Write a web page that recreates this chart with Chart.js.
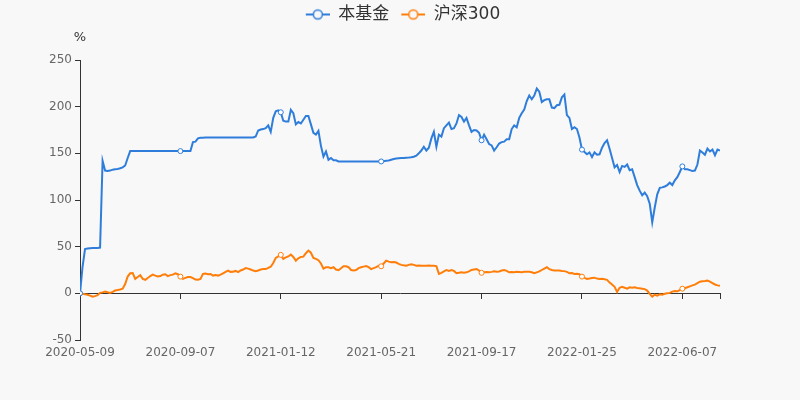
<!DOCTYPE html>
<html>
<head>
<meta charset="utf-8">
<script src="https://cdn.jsdelivr.net/npm/chart.js@4/dist/chart.umd.min.js"></script>
<style>
  html, body { margin: 0; padding: 0; background: #f8f8f8; }
  #wrap { width: 800px; height: 400px; }
</style>
</head>
<body>
<div id="wrap"><canvas id="c" width="800" height="400"></canvas></div>
<script>
// ---- data ----
const seriesNames = ['本基金', '沪深300'];
const tickLabels = ['2020-05-09', '2020-09-07', '2021-01-12', '2021-05-21', '2021-09-17', '2022-01-25', '2022-06-07'];
const pointsPerLabel = 40;
const yUnit = '%';
const yMin = -50, yMax = 250, yStep = 50;

const fundReturn = [
  0, 28, 47.5, 48, 48.3, 48.5, 48.6, 48.7, 49, 142,
  131.5, 131, 131.5, 132.5, 133, 133.3, 134, 135, 137, 145,
  152.4, 152.4, 152.4, 152.4, 152.4, 152.4, 152.4, 152.4, 152.4, 152.4,
  152.4, 152.4, 152.4, 152.4, 152.4, 152.4, 152.4, 152.4, 152.4, 152.4,
  152.4, 152.4, 152.4, 152.4, 152.5, 162, 162.5, 166, 166.7, 166.8,
  167, 167, 167, 167, 167, 167, 167, 167, 167, 167,
  167, 167, 167, 167, 167, 167, 167, 167, 167, 167,
  168, 174.5, 175.5, 176, 177, 180, 173, 188, 195, 196,
  194, 185, 184, 184, 196.5, 193, 181, 183.5, 182, 186,
  190, 190, 181, 172, 170, 174, 158, 146.5, 152, 143,
  145, 142.5, 142.5, 141.3, 141.3, 141.3, 141.3, 141.3, 141.3, 141.3,
  141.3, 141.3, 141.3, 141.3, 141.3, 141.3, 141.3, 141.3, 141.3, 141.3,
  141.3, 141.5, 142, 142.4, 143.2, 144, 144.5, 144.8, 145, 145,
  145.3, 145.5, 145.8, 146.3, 147.5, 150, 153, 157, 153, 156,
  166, 173, 157, 170, 168, 177, 180, 183, 176, 177,
  182, 191, 189, 184, 188, 180, 173, 175, 174.5, 172,
  164, 170, 165, 160, 158.5, 153, 156.5, 160.5, 162, 162.5,
  165, 165, 176, 180, 178, 188, 193, 197, 206, 212,
  208, 212, 219.4, 216, 205, 207, 208, 208, 199, 198.5,
  201.5, 202, 210, 213, 191, 188, 176, 178, 176, 167,
  154, 151.5, 149, 151, 146, 151, 148.5, 149, 156, 161,
  164, 155, 145, 135, 137.5, 130, 136.5, 135.5, 138, 132,
  133, 124.5, 116, 110, 105, 108, 104, 96, 76, 92,
  106, 113, 113.5, 114.5, 116, 118.5, 116, 121, 124.5, 130,
  136, 133, 133, 132, 131, 131.5, 138, 153, 151, 148.5,
  155, 152, 154, 148, 154, 153
];

const hs300Return = [
  0, -0.5, -1, -1.5, -2.5, -3.5, -3, -2, 0.5, 1,
  1.8, 1.2, 0.5, 1.5, 3, 3.5, 4.2, 5, 10, 18,
  21.5, 21.8, 15.5, 17.5, 19.5, 15.5, 14.5, 16.5, 18.5, 20,
  19, 18, 18.5, 20, 20.5, 18.5, 19.5, 20, 21.5, 20.5,
  17.9, 15.5, 16.5, 17.5, 17.5, 16.4, 14.8, 14.5, 15.5, 20.8,
  21.3, 20.5, 20.8, 19, 19.5, 19, 20, 21.5, 23, 24.4,
  23, 23.2, 24, 22.8, 24.5, 25.5, 27, 26.5, 25.5, 24.4,
  23.8, 24.5, 25.5, 26, 26, 27.2, 28.5, 32.5, 38, 39.5,
  41.2, 37, 38.5, 39.5, 41.5, 39, 35, 37.5, 39, 39.3,
  43, 45.8, 43.5, 38, 37, 35.5, 32, 26.5, 27.9, 28,
  27, 28, 25.5, 24.8, 26.8, 29, 29, 28, 25, 24.5,
  25, 27, 28, 28.6, 29.2, 28, 26, 27, 28, 29.6,
  29, 32, 35, 34, 33.3, 33.5, 33, 31.5, 30.5, 30,
  29.6, 30.5, 31.2, 30.5, 29.6, 29.8, 29.6, 29.6, 29.6, 29.8,
  29.6, 29.6, 29.2, 20.8, 22, 23.5, 25, 24, 25, 24,
  21.5, 22, 22.5, 22, 22.5, 23.5, 25, 25.5, 26, 24.5,
  22, 22.5, 22.8, 22.5, 23, 23.6, 23.2, 23.5, 24.5, 25,
  24, 22.5, 22.8, 22.5, 23, 22.8, 22.5, 23, 23.2, 23,
  22.5, 21.5, 22.5, 23.5, 25, 26.5, 27.9, 26, 25, 24.4,
  24.5, 24.4, 24, 23.8, 23, 21.5, 21.8, 20.8, 21, 20.5,
  17.9, 16.5, 15.5, 15.8, 16.4, 16.8, 15.8, 15.4, 15.5, 15,
  14.5, 11.5, 9.5, 7, 1.5, 6, 7, 6, 5, 6.5,
  6, 6.5, 5.7, 5.5, 5, 4.5, 3, -0.5, -3.5, -1.5,
  -2.5, -1, -1.5, -0.5, 0, 0.5, 1.8, 2.5, 2.2, 3.5,
  5, 5.5, 6.5, 7.5, 8.5, 9.3, 11, 12.5, 13, 13.2,
  13.6, 12.5, 11, 9.5, 8.5, 8
];

// ---- styles ----
const colors = ['#2e7ddb', '#ff7e0a'];
const bg = '#f8f8f8';
const fontFamily = "'DejaVu Sans', 'Noto Sans CJK SC', sans-serif";
const lastIndex = fundReturn.length - 1;

function legendIcon(color) {
  const c = document.createElement('canvas');
  c.width = 30; c.height = 14;
  const g = c.getContext('2d');
  g.strokeStyle = color; g.lineWidth = 2;
  g.beginPath(); g.moveTo(6, 7); g.lineTo(30, 7); g.stroke();
  g.beginPath(); g.arc(18, 7, 4.5, 0, Math.PI * 2);
  g.fillStyle = bg; g.fill();
  g.lineWidth = 1.5; g.stroke();
  return c;
}
const icons = colors.map(legendIcon);

function toXY(arr) { return arr.map((v, i) => ({ x: i, y: v })); }
const labelTickValues = tickLabels.map((_, k) => k * pointsPerLabel);

function makeDataset(name, values, color) {
  return {
    label: name,
    data: toXY(values),
    borderColor: color,
    backgroundColor: color,
    borderWidth: 2,
    tension: 0,
    fill: false,
    pointRadius: ctx => (ctx.dataIndex % pointsPerLabel === 0 ? 2.5 : 0),
    pointBackgroundColor: '#ffffff',
    pointBorderColor: color,
    pointBorderWidth: 1,
    pointHoverRadius: 0
  };
}

new Chart(document.getElementById('c'), {
  type: 'line',
  data: {
    datasets: [
      makeDataset(seriesNames[0], fundReturn, colors[0]),
      makeDataset(seriesNames[1], hs300Return, colors[1])
    ]
  },
  options: {
    responsive: false,
    devicePixelRatio: 1,
    animation: false,
    events: [],
    layout: { padding: { left: 0, right: 80, top: 0, bottom: 0 } },
    plugins: {
      tooltip: { enabled: false },
      title: { display: false },
      legend: {
        display: true,
        position: 'top',
        fullSize: false,
        maxHeight: 26,
        labels: {
          usePointStyle: true,
          pointStyleWidth: 30,
          padding: 6,
          color: '#333',
          font: { family: fontFamily, size: 17 },
          generateLabels: chart => {
            const items = Chart.defaults.plugins.legend.labels.generateLabels(chart);
            items.forEach(it => { it.pointStyle = icons[it.datasetIndex]; });
            return items;
          }
        }
      }
    },
    scales: {
      x: {
        type: 'linear',
        axis: 'x',
        position: 'bottom',
        min: 0,
        max: lastIndex,
        afterFit: s => { s.height = 60; },
        afterBuildTicks: s => { s.ticks = labelTickValues.map(v => ({ value: v })); },
        border: { display: false },
        grid: { display: false, drawTicks: false },
        ticks: {
          autoSkip: false,
          maxRotation: 0,
          padding: 6,
          color: '#666',
          font: { family: fontFamily, size: 12 },
          callback: (v, i) => tickLabels[i]
        }
      },
      xUnit: {
        type: 'linear',
        axis: 'x',
        position: 'top',
        min: 0,
        max: lastIndex,
        afterFit: s => { s.height = 34; },
        afterBuildTicks: s => { s.ticks = [{ value: 0 }]; },
        border: { display: false },
        grid: { display: false, drawTicks: false },
        ticks: {
          autoSkip: false,
          maxRotation: 0,
          padding: 15,
          color: '#333',
          font: { family: fontFamily, size: 13 },
          callback: () => yUnit
        }
      },
      x2: {
        type: 'linear',
        axis: 'x',
        position: { y: 0 },
        min: 0,
        max: lastIndex,
        afterBuildTicks: s => { s.ticks = labelTickValues.concat([lastIndex]).map(v => ({ value: v })); },
        border: { display: true, color: '#333', width: 1 },
        grid: { drawOnChartArea: false, drawTicks: true, tickLength: 5, color: '#333' },
        ticks: { display: false }
      },
      y: {
        type: 'linear',
        position: 'left',
        min: yMin,
        max: yMax,
        afterFit: s => { s.width = 80; },
        border: { display: true, color: '#333', width: 1 },
        grid: { drawOnChartArea: false, drawTicks: true, tickLength: 5, color: '#333' },
        ticks: {
          stepSize: yStep,
          padding: 3,
          color: '#666',
          font: { family: fontFamily, size: 12 }
        }
      }
    }
  }
});
</script>
</body>
</html>
